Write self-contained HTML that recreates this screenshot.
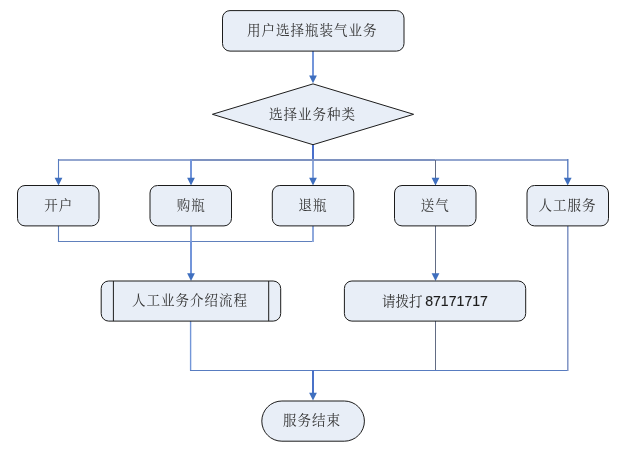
<!DOCTYPE html>
<html lang="zh">
<head>
<meta charset="utf-8">
<title>瓶装气业务流程</title>
<style>
html,body{margin:0;padding:0;background:#fff;}
body{width:622px;height:455px;overflow:hidden;}
svg{display:block;will-change:transform;}
.b{fill:#e8eef7;stroke:#1c1c1c;stroke-width:1;}
.l{fill:none;stroke:#587cc0;stroke-width:1.1;}
.k{fill:none;stroke:#7395da;stroke-width:2;}
.g{fill:none;stroke:#626c84;stroke-width:1;}
.a{fill:#3f6fbf;stroke:none;}
text{font-family:"Liberation Serif","Noto Serif CJK SC",serif;font-size:13.5px;letter-spacing:1px;fill:#333;text-anchor:middle;}
.n{font-family:"Liberation Sans","Noto Sans CJK SC",sans-serif;font-size:14.1px;letter-spacing:0;fill:#1c1c1c;stroke:#1c1c1c;stroke-width:0.12;}
</style>
</head>
<body>
<svg width="622" height="455" viewBox="0 0 622 455">
<rect width="622" height="455" fill="#fff"/>

<!-- connectors -->
<path class="k" d="M313 51V76"/>
<path class="a" d="M309.100 75.500h7.800l-3.900 7.800z"/>

<path class="k" style="stroke:#4a70cc" d="M313 145V160"/>
<path class="k" style="stroke:#8ea8dc" d="M313 160V178"/>
<path class="l" style="stroke:#93a6cf;stroke-width:1.900" d="M58 160H191M435.500 160H568"/>
<path class="l" style="stroke:#7e92c0;stroke-width:1.900" d="M191 160H435.500"/>
<path class="l" d="M58.500 159V178"/>
<path class="k" d="M191 159V178"/>
<path class="g" d="M435.500 160V274"/>
<path class="l" style="stroke-width:1.400" d="M567.800 159V178"/>
<path class="a" d="M54.600 177.800h7.800l-3.900 7.800z"/>
<path class="a" d="M187.100 177.800h7.800l-3.900 7.800z"/>
<path class="a" d="M309.100 177.800h7.800l-3.900 7.800z"/>
<path class="a" d="M431.600 177.800h7.800l-3.900 7.800z"/>
<path class="a" d="M563.800 177.800h7.800l-3.900 7.800z"/>

<path class="l" style="stroke:#6080bc" d="M58.500 226V241.500H313.500"/>
<path class="k" style="stroke:#8ea8dc" d="M313 226V242"/>
<path class="k" style="stroke:#8ea8dc" d="M191 226V241"/>
<path class="k" d="M191 241V274"/>
<path class="a" d="M187.100 273.200h7.800l-3.900 7.800z"/>
<path class="a" d="M431.600 273.200h7.800l-3.900 7.800z"/>

<path class="l" style="stroke:#7396d8;stroke-width:1.400" d="M190.600 321V370.500"/>
<path class="l" d="M190 370.500H568"/>
<path class="l" style="stroke:#7f93c4;stroke-width:1.500" d="M567.800 226V371"/>
<path class="g" d="M435.500 321V370"/>
<path class="k" style="stroke:#4a72c8" d="M313 370V393"/>
<path class="a" d="M309.100 392.800h7.800l-3.900 7.800z"/>

<!-- shapes -->
<rect class="b" x="222.500" y="10.600" width="181.500" height="40.500" rx="7.500" ry="7.500"/>
<text x="312.300" y="34.800">用户选择瓶装气业务</text>

<path class="b" d="M212.400 114.300L313 83.900L413.600 114.300L313 144.700Z"/>
<text x="312.600" y="118.600">选择业务种类</text>

<rect class="b" x="17.500" y="185.500" width="81.500" height="40.400" rx="7.500" ry="7.500"/>
<text x="58.700" y="209.600">开户</text>
<rect class="b" x="150" y="185.500" width="81.500" height="40.400" rx="7.500" ry="7.500"/>
<text x="191.200" y="209.600">购瓶</text>
<rect class="b" x="272.300" y="185.500" width="81.500" height="40.400" rx="7.500" ry="7.500"/>
<text x="313.100" y="209.600">退瓶</text>
<rect class="b" x="394.500" y="185.500" width="81.500" height="40.400" rx="7.500" ry="7.500"/>
<text x="435.300" y="209.600">送气</text>
<rect class="b" x="527" y="185.500" width="81.500" height="40.400" rx="7.500" ry="7.500"/>
<text x="567.500" y="209.600">人工服务</text>

<rect class="b" x="101.200" y="281" width="179.500" height="40.100" rx="7.500" ry="7.500"/>
<path class="b" d="M113.400 281V321.100M268.700 281V321.100" style="fill:none"/>
<text x="190" y="305">人工业务介绍流程</text>

<rect class="b" x="344.400" y="281" width="181.300" height="40.100" rx="7.500" ry="7.500"/>
<text x="435" y="305.500" style="letter-spacing:0">请拨打<tspan class="n" dx="2.600">87171717</tspan></text>

<rect class="b" x="261.800" y="401" width="102.600" height="40.200" rx="20.100" ry="20.100"/>
<text x="312" y="425.200">服务结束</text>
</svg>
</body>
</html>
